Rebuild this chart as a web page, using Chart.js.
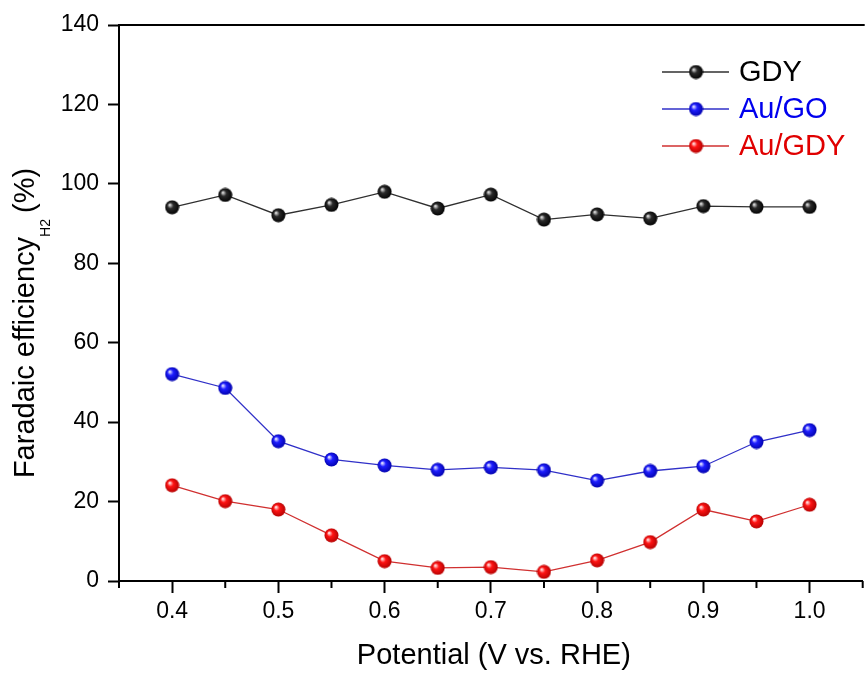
<!DOCTYPE html>
<html>
<head>
<meta charset="utf-8">
<script src="https://cdn.jsdelivr.net/npm/chart.js@4/dist/chart.umd.min.js"></script>
<style>
  html, body { margin: 0; padding: 0; background: #fff; overflow: hidden; }
  #wrap { width: 871px; height: 675px; position: relative; }
</style>
</head>
<body>
<div id="wrap"><canvas id="chart"></canvas></div>
<script>
// potential (V vs. RHE)
const potentials = [0.4, 0.45, 0.5, 0.55, 0.6, 0.65, 0.7, 0.75, 0.8, 0.85, 0.9, 0.95, 1.0];
// faradaic efficiency H2 (%)
const gdy   = [94.1, 97.2, 92.1, 94.7, 98.0, 93.8, 97.3, 91.0, 92.3, 91.3, 94.4, 94.2, 94.2];
const auGO  = [52.1, 48.6, 35.2, 30.6, 29.1, 28.0, 28.6, 27.9, 25.3, 27.7, 28.9, 35.0, 38.0];
const auGDY = [24.1, 20.1, 18.0, 11.5, 5.0, 3.3, 3.5, 2.3, 5.2, 9.8, 18.0, 15.0, 19.2];

const seriesNames = ["GDY", "Au/GO", "Au/GDY"];
const xMajorTicks = [0.4, 0.5, 0.6, 0.7, 0.8, 0.9, 1.0];
const xMinorTicks = [0.35, 0.45, 0.55, 0.65, 0.75, 0.85, 0.95, 1.05];

const FONT = "Arial, 'Liberation Sans', sans-serif";

function sphere(hi, mid, dark){
    const c = document.createElement("canvas");
    c.width = 15; c.height = 15;
    const g = c.getContext("2d");
    const grad = g.createRadialGradient(5, 5, 0.5, 7.5, 7.5, 7.5);
    grad.addColorStop(0, hi);
    grad.addColorStop(0.35, mid);
    grad.addColorStop(1, dark);
    g.fillStyle = grad;
    g.beginPath();
    g.arc(7.5, 7.5, 7, 0, Math.PI*2);
    g.fill();
    return c;
}
const balls = [
    sphere("#dcdcdc", "#2a2a2a", "#000000"),
    sphere("#e4e4ff", "#1e1eff", "#0000a8"),
    sphere("#ffe4e4", "#ff1414", "#b00000")
];
const lineColors = ["#303030", "#3030c8", "#d03030"];
const textColors = ["#000000", "#0000ee", "#e00000"];

function pts(arr){ return potentials.map((x,i)=>({x:x, y:arr[i]})); }

const extras = {
    id: "extras",
    afterDraw(chart){
        const ctx = chart.ctx, a = chart.chartArea;
        const xs = chart.scales.x;
        ctx.save();
        // top border
        ctx.strokeStyle = "#000"; ctx.lineWidth = 2;
        ctx.beginPath(); ctx.moveTo(a.left, a.top); ctx.lineTo(a.right + 2, a.top); ctx.stroke();
        // minor x ticks
        xMinorTicks.forEach(v=>{
            const px = xs.getPixelForValue(v);
            ctx.beginPath(); ctx.moveTo(px, a.bottom); ctx.lineTo(px, a.bottom + 7); ctx.stroke();
        });
        // x title
        ctx.fillStyle = "#000";
        ctx.font = "29px " + FONT;
        ctx.textAlign = "center"; ctx.textBaseline = "alphabetic";
        ctx.fillText("Potential (V vs. RHE)", (a.left + a.right)/2 + 3, 664);
        // y title with subscript
        ctx.translate(34, 323);
        ctx.rotate(-Math.PI/2);
        const p1 = "Faradaic efficiency", sub = "H2", p2 = "(%)";
        const gap = 6;
        ctx.font = "29px " + FONT; const w1 = ctx.measureText(p1).width, w3 = ctx.measureText(p2).width;
        ctx.font = "14px " + FONT; const w2 = ctx.measureText(sub).width;
        let x0 = -(w1 + w2 + gap + w3)/2;
        ctx.textAlign = "left";
        ctx.font = "29px " + FONT; ctx.fillText(p1, x0, 0);
        ctx.font = "14px " + FONT; ctx.fillText(sub, x0 + w1, 16);
        ctx.font = "29px " + FONT; ctx.fillText(p2, x0 + w1 + w2 + gap, 0);
        ctx.restore();
        // legend
        ctx.save();
        const rows = [72, 109, 146];
        chart.data.datasets.forEach((ds, i)=>{
            const y = rows[i];
            ctx.strokeStyle = ds.borderColor; ctx.lineWidth = 1.3;
            ctx.beginPath(); ctx.moveTo(662, y); ctx.lineTo(729, y); ctx.stroke();
            ctx.drawImage(balls[i], 696 - 7.5, y - 7.5);
            ctx.fillStyle = textColors[i];
            ctx.font = "29px " + FONT;
            ctx.textAlign = "left"; ctx.textBaseline = "middle";
            ctx.fillText(ds.label, 739, y + 1);
        });
        ctx.restore();
    }
};

new Chart(document.getElementById("chart"), {
    type: "line",
    data: {
        datasets: [gdy, auGO, auGDY].map((arr, i)=>({
            label: seriesNames[i],
            data: pts(arr),
            borderColor: lineColors[i],
            borderWidth: 1.3,
            tension: 0,
            pointStyle: balls[i],
            pointRadius: 7,
            pointHoverRadius: 7
        }))
    },
    options: {
        responsive: true,
        maintainAspectRatio: false,
        animation: false,
        layout: { padding: { top: 25, left: 0, right: 0, bottom: 0 } },
        plugins: { legend: { display: false }, tooltip: { enabled: false } },
        scales: {
            x: {
                type: "linear",
                min: 0.35, max: 1.05,
                afterBuildTicks: s => { s.ticks = xMajorTicks.map(v=>({value:v})); },
                afterFit: s => { s.height = 94; },
                ticks: {
                    color: "#000",
                    font: { family: FONT, size: 23 },
                    padding: 5,
                    maxRotation: 0,
                    autoSkip: false,
                    callback: v => v.toFixed(1)
                },
                grid: { drawOnChartArea: false, drawTicks: true, tickLength: 12, tickWidth: 2, tickColor: "#000" },
                border: { display: true, color: "#000", width: 2 }
            },
            y: {
                min: 0, max: 140,
                afterFit: s => { s.width = 119; },
                ticks: {
                    stepSize: 20,
                    color: "#000",
                    font: { family: FONT, size: 23 },
                    padding: 9
                },
                grid: { drawOnChartArea: false, drawTicks: true, tickLength: 11, tickWidth: 2, tickColor: "#000" },
                border: { display: true, color: "#000", width: 2 }
            }
        }
    },
    plugins: [extras]
});
</script>
</body>
</html>
